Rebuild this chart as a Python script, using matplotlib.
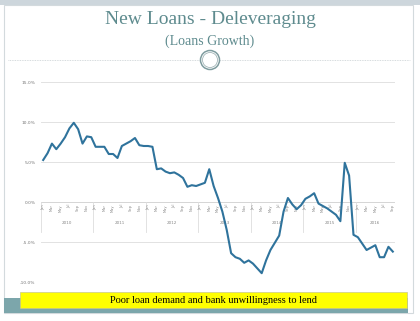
import matplotlib.pyplot as plt
from matplotlib.patches import Rectangle, Ellipse
from matplotlib.lines import Line2D

# monthly loans growth, % y/y, Jan 2010 - Sep 2016
years = ["2010", "2011", "2012", "2013", "2014", "2015", "2016"]
month_labels = ["Jan", "Mar", "May", "Jul", "Sep", "Nov"]
growth = [
    5.25, 6.1, 7.3, 6.6, 7.3, 8.1, 9.2, 9.9, 9.1, 7.3, 8.2, 8.1,
    6.9, 6.9, 6.9, 6.0, 6.0, 5.5, 7.0, 7.3, 7.6, 8.0, 7.1, 7.0,
    7.0, 6.9, 4.1, 4.2, 3.8, 3.6, 3.7, 3.4, 3.0, 1.9, 2.1, 2.0,
    2.2, 2.4, 4.1, 2.0, 0.5, -1.2, -3.5, -6.4, -6.9, -7.1, -7.6, -7.3,
    -7.7, -8.3, -8.9, -7.3, -6.0, -5.1, -4.2, -1.2, 0.5, -0.3, -0.9, -0.4,
    0.4, 0.7, 1.1, -0.2, -0.5, -0.8, -1.2, -1.6, -2.4, 4.9, 3.3, -4.1,
    -4.4, -5.2, -6.0, -5.7, -5.4, -6.9, -6.9, -5.6, -6.2,
]
y_ticks = [-10, -5, 0, 5, 10, 15]

W, H = 420, 321
fig = plt.figure(figsize=(W / 100, H / 100), dpi=100)
fig.patch.set_facecolor("white")


def fx(x):
    return x / W


def fy(y):
    return 1 - y / H


# slide frame
fig.patches.append(Rectangle((0, fy(5)), 1, 5 / H, transform=fig.transFigure,
                             facecolor="#cdd6dc", edgecolor="none", zorder=-3))
fig.patches.append(Rectangle((fx(4), fy(313)), 409 / W, 308 / H, transform=fig.transFigure,
                             facecolor="white", edgecolor="#d3dadd", lw=0.8, zorder=-2))
fig.patches.append(Rectangle((fx(4), fy(313)), 404 / W, 15 / H, transform=fig.transFigure,
                             facecolor="#7ca6ab", edgecolor="none", zorder=-1))

# title block
title_color = "#5e8b8e"
fig.text(0.5, fy(20), "New Loans - Deleveraging", ha="center", va="center",
         fontsize=14, family="Liberation Serif", color=title_color)
fig.text(0.5, fy(41), "(Loans Growth)", ha="center", va="center",
         fontsize=10, family="Liberation Serif", color=title_color)
fig.lines.append(Line2D([fx(8), fx(410)], [fy(60), fy(60)], transform=fig.transFigure,
                        color="#c8cfd2", lw=0.6, ls=(0, (1, 1)), zorder=1))
fig.patches.append(Ellipse((fx(210), fy(60)), 19 / W, 19 / H, transform=fig.transFigure,
                           facecolor="white", edgecolor="#7f9c9f", lw=1.1, zorder=2))
fig.patches.append(Ellipse((fx(210), fy(60)), 15 / W, 15 / H, transform=fig.transFigure,
                           facecolor="white", edgecolor="#a3b6b8", lw=0.6, zorder=3))

# chart
ax = fig.add_axes([fx(41), fy(282), 354 / W, 200 / H])
ax.patch.set_alpha(0)
ax.set_xlim(-0.5, len(growth) - 0.5)
ax.set_ylim(-10, 15)
for s in ax.spines.values():
    s.set_visible(False)
ax.set_xticks([])
ax.set_yticks(y_ticks)
ax.set_yticklabels([f"{v:.1f}%" for v in y_ticks], fontsize=3.2, color="#777777")
ax.tick_params(axis="y", length=0, pad=4)
ax.grid(axis="y", color="#e2e2e2", lw=0.7)
ax.axhline(0, color="#d6d6d6", lw=0.7)

# category axis: every other month, grouped by year
n = len(growth)
for i in range(0, n, 2):
    ax.text(i, -0.25, month_labels[(i % 12) // 2], rotation=90, ha="center", va="top",
            fontsize=2.6, color="#888888")
for k, yr in enumerate(years):
    start = k * 12 - 0.5
    end = min(start + 12, n - 0.5)
    ax.plot([start, start], [0, -3.8], color="#dddddd", lw=0.6)
    ax.text((start + end) / 2, -2.6, yr, ha="center", va="center", fontsize=3,
            color="#888888")
ax.plot([n - 0.5, n - 0.5], [0, -3.8], color="#dddddd", lw=0.6)

ax.plot(range(n), growth, color="#2f739c", lw=1.5, solid_joinstyle="round", zorder=5)

# takeaway box
fig.patches.append(Rectangle((fx(20), fy(308)), 387 / W, 16 / H, transform=fig.transFigure,
                             facecolor="#ffff00", edgecolor="#c9c98a", lw=0.5, zorder=4))
fig.text(fx(213), fy(300.5), "Poor loan demand and bank unwillingness to lend",
         ha="center", va="center", fontsize=7.5, family="Liberation Serif", color="black",
         zorder=6)

fig.savefig("out.png", dpi=100)
